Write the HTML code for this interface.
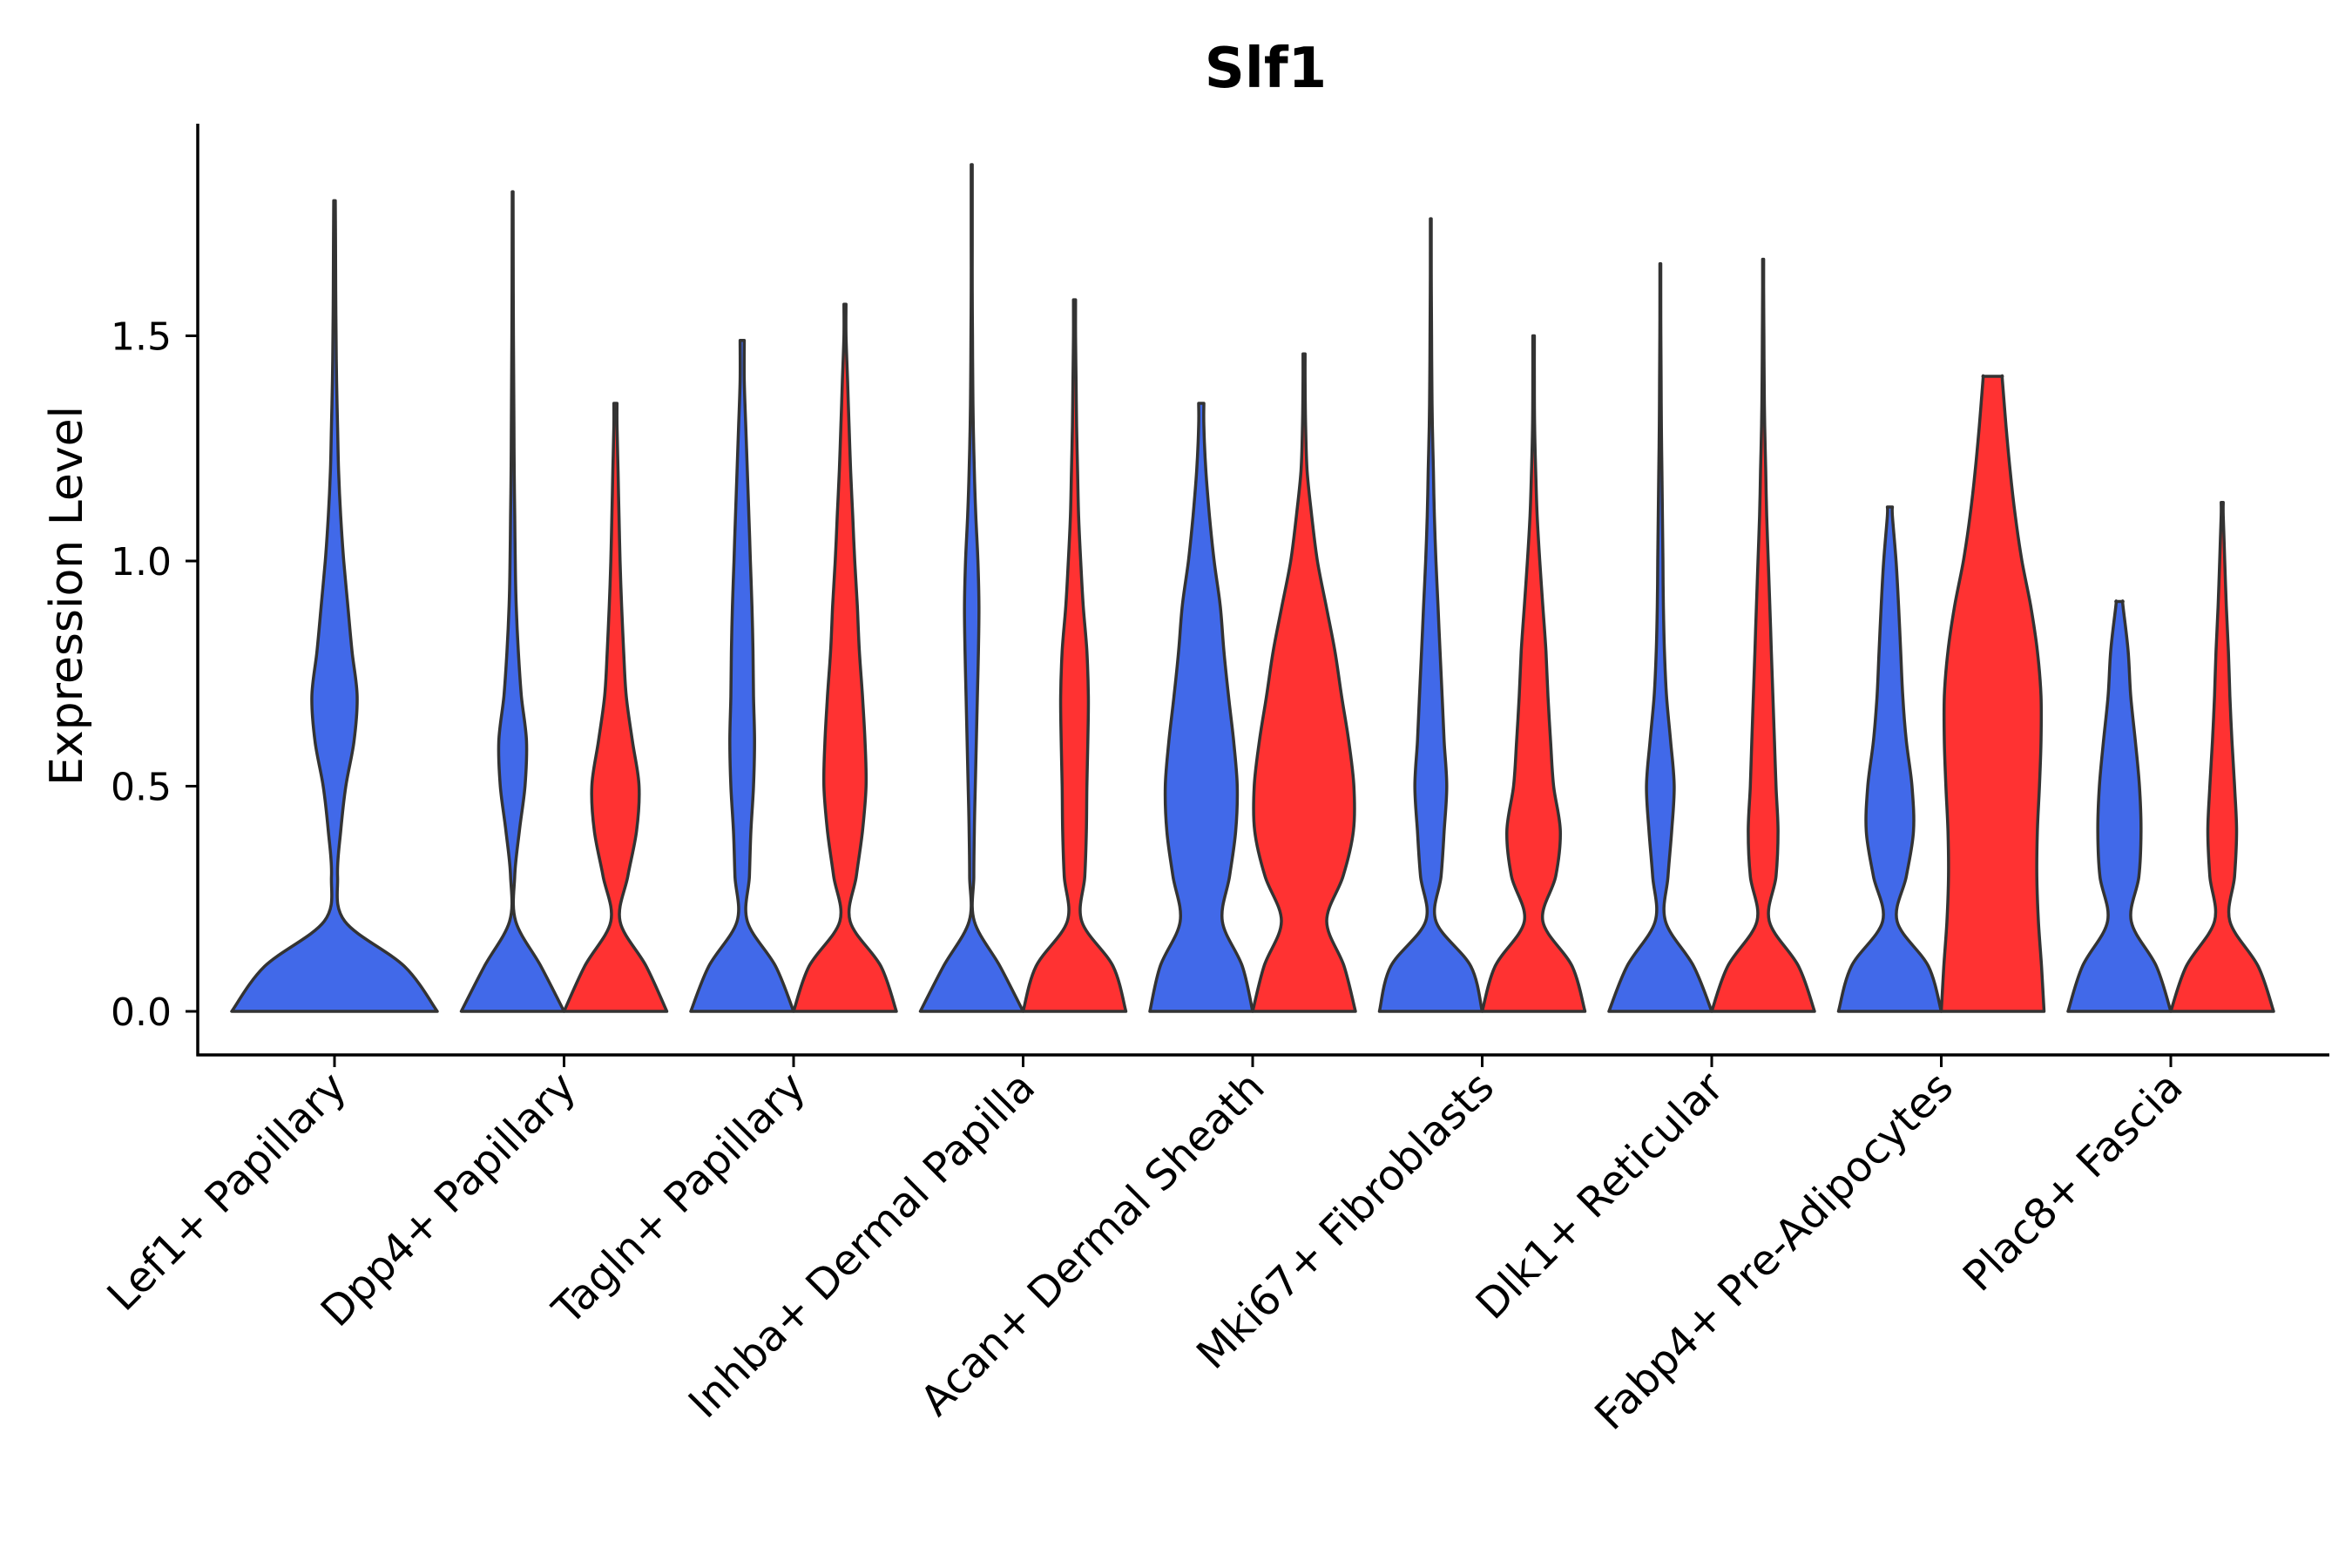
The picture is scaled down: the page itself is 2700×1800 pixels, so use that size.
<!DOCTYPE html>
<html><head><meta charset="utf-8"><style>
body{margin:0;background:#fff}
svg{display:block;font-family:"DejaVu Sans","Liberation Sans",sans-serif}
</style></head><body>
<svg id="chart" width="2700" height="1800" viewBox="0 0 2700 1800" xmlns="http://www.w3.org/2000/svg">
<rect width="2700" height="1800" fill="#fff"/>
<text x="1453" y="100" text-anchor="middle" font-size="64" font-weight="bold">Slf1</text>
<g id="plot"></g>
</svg>
<script>
const categories=["Lef1+ Papillary","Dpp4+ Papillary","Tagln+ Papillary","Inhba+ Dermal Papilla","Acan+ Dermal Sheath","Mki67+ Fibroblasts","Dlk1+ Reticular","Fabp4+ Pre-Adipocytes","Plac8+ Fascia"];
const yTicks=[0,0.5,1.0,1.5];
const yTickLabels=["0.0","0.5","1.0","1.5"];
// max expression per violin (null = no violin)
const blueMax=[1.80,1.82,1.49,1.88,1.35,1.76,1.66,1.12,0.91];
const redMax=[null,1.35,1.57,1.58,1.46,1.50,1.67,1.41,1.13];
// relative density widths sampled every 0.1 from 0
const blueDens=[
[1,0.68,0.1,0.03,0.06,0.11,0.19,0.22,0.17,0.13,0.09,0.06,0.04,0.03,0.02,0.015,0.012,0.01,0.008],
[1,0.55,0.06,0.04,0.13,0.24,0.27,0.17,0.11,0.07,0.05,0.04,0.03,0.025,0.02,0.015,0.012,0.01,0.008],
[1,0.65,0.1,0.14,0.17,0.22,0.24,0.22,0.21,0.19,0.16,0.13,0.1,0.07,0.04],
[1,0.55,0.05,0.04,0.05,0.07,0.09,0.11,0.13,0.14,0.12,0.08,0.05,0.03,0.02,0.015,0.01,0.01,0.01],
[1,0.8,0.41,0.55,0.67,0.7,0.63,0.53,0.44,0.37,0.25,0.16,0.09,0.05],
[1,0.78,0.1,0.2,0.26,0.31,0.26,0.22,0.18,0.14,0.1,0.07,0.05,0.03,0.02,0.015,0.01,0.008],
[1,0.65,0.1,0.15,0.22,0.27,0.2,0.12,0.08,0.06,0.05,0.04,0.03,0.02,0.015,0.01,0.008],
[1,0.75,0.14,0.32,0.46,0.43,0.32,0.25,0.21,0.17,0.12,0.05],
[1,0.72,0.23,0.38,0.42,0.39,0.31,0.22,0.17,0.07]
];
const redDens=[
null,
[1,0.6,0.09,0.24,0.41,0.46,0.33,0.21,0.16,0.12,0.09,0.07,0.05,0.03],
[1,0.7,0.1,0.22,0.34,0.41,0.39,0.34,0.28,0.24,0.19,0.15,0.11,0.08,0.05,0.02],
[1,0.75,0.14,0.2,0.23,0.24,0.26,0.27,0.24,0.17,0.12,0.08,0.06,0.04,0.03,0.02],
[1,0.78,0.44,0.76,0.96,0.97,0.87,0.73,0.6,0.43,0.26,0.15,0.06,0.03,0.02],
[1,0.75,0.18,0.43,0.52,0.39,0.33,0.28,0.24,0.18,0.12,0.07,0.04,0.02,0.015],
[1,0.69,0.12,0.25,0.29,0.25,0.22,0.19,0.16,0.13,0.1,0.07,0.05,0.03,0.02,0.015,0.01],
[1,0.95,0.89,0.86,0.87,0.91,0.94,0.94,0.87,0.74,0.57,0.44,0.34,0.26,0.19],
[1,0.7,0.15,0.24,0.28,0.24,0.19,0.15,0.12,0.08,0.05,0.02]
];
const NS="http://www.w3.org/2000/svg";
const plot=document.getElementById('plot');
const X0=227,X1=2674,YB=1211,YT=142;
const y0px=1161,unit=517;
const yScale=v=>y0px-v*unit;
const catX=i=>384+i*263.5;
const halfW=59;
function mk(t,a){const e=document.createElementNS(NS,t);for(const k in a)e.setAttribute(k,a[k]);plot.appendChild(e);return e;}
function violin(cx,hw,dens,max,color,name){
  const pts=[];
  for(let i=0;i<dens.length;i++){const v=i*0.1;if(v>=max-0.001)break;pts.push([v,dens[i]]);}
  const lastW=dens[Math.min(dens.length-1,Math.round(max*10))]||0.01;
  pts.push([max,Math.max(0.008,lastW)]);
  const right=pts.map(p=>[cx+p[1]*hw,yScale(p[0])]);
  const left=pts.slice().reverse().map(p=>[cx-p[1]*hw,yScale(p[0])]);
  function smooth(arr){let d='';for(let i=0;i<arr.length-1;i++){const p0=arr[Math.max(0,i-1)],p1=arr[i],p2=arr[i+1],p3=arr[Math.min(arr.length-1,i+2)];
    const c1=[p1[0]+(p2[0]-p0[0])/6,p1[1]+(p2[1]-p0[1])/6],c2=[p2[0]-(p3[0]-p1[0])/6,p2[1]-(p3[1]-p1[1])/6];
    d+=` C${c1[0].toFixed(1)},${c1[1].toFixed(1)} ${c2[0].toFixed(1)},${c2[1].toFixed(1)} ${p2[0].toFixed(1)},${p2[1].toFixed(1)}`;}return d;}
  let d=`M${right[0][0].toFixed(1)},${right[0][1].toFixed(1)}`+smooth(right)+` L${left[0][0].toFixed(1)},${left[0][1].toFixed(1)}`+smooth(left)+' Z';
  const p=mk('path',{d:d,fill:color,stroke:'#333',"stroke-width":3.5,"stroke-linejoin":"round"});
  
  
}
categories.forEach((c,i)=>{
  const cx=catX(i);
  if(redMax[i]===null){
    violin(cx,halfW*2,blueDens[i],blueMax[i],'#4169E9','violin-blue-'+i);
  }else{
    violin(cx-halfW,halfW,blueDens[i],blueMax[i],'#4169E9','violin-blue-'+i);
    violin(cx+halfW,halfW,redDens[i],redMax[i],'#FF3232','violin-red-'+i);
  }
  const t=mk('line',{x1:cx,x2:cx,y1:YB,y2:YB+14,stroke:'#000',"stroke-width":3});
  
  
  const lx=cx+16,ly=YB+40;
  const l=mk('text',{x:lx,y:ly,"text-anchor":"end","font-size":48,transform:`rotate(-45 ${lx} ${ly})`});
  l.textContent=c;
  
  
});
yTicks.forEach((v,i)=>{
  const y=yScale(v);
  const t=mk('line',{x1:X0-14,x2:X0,y1:y,y2:y,stroke:'#000',"stroke-width":3});
  
  
  const l=mk('text',{x:X0-30,y:y+16,"text-anchor":"end","font-size":44});
  l.textContent=yTickLabels[i];
  
  
});
const ax=mk('line',{x1:X0,x2:X0,y1:YT,y2:YB+1.5,stroke:'#000',"stroke-width":3.5});


const ax2=mk('line',{x1:X0-1.5,x2:X1,y1:YB,y2:YB,stroke:'#000',"stroke-width":3.5});


const yt=mk('text',{x:94,y:684,"text-anchor":"middle","font-size":52,transform:"rotate(-90 94 684)"});
yt.textContent='Expression Level';


</script>
</body></html>
